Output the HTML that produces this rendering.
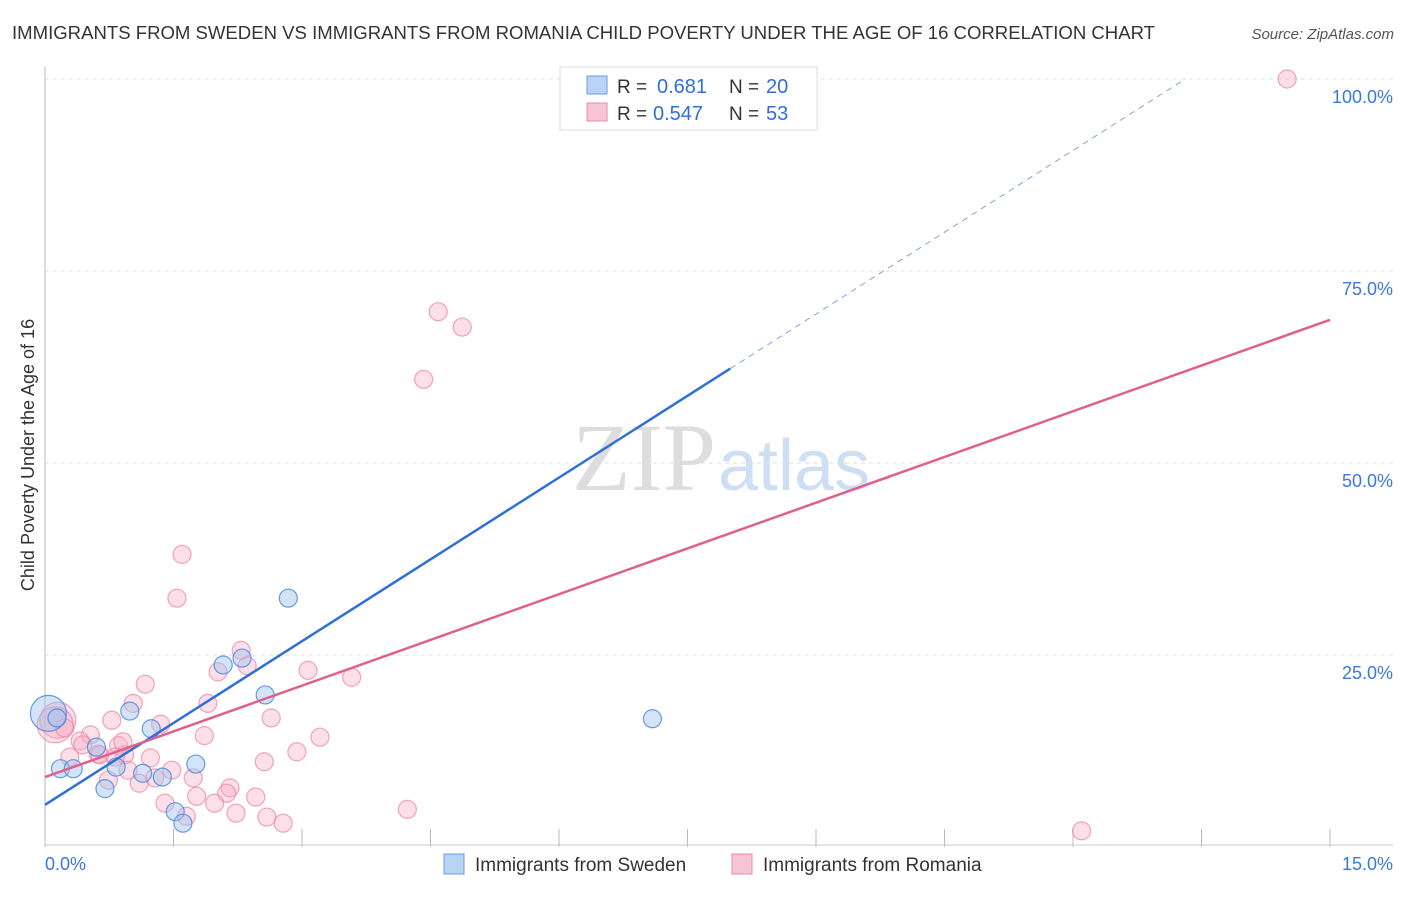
<!DOCTYPE html>
<html><head><meta charset="utf-8"><style>
body{margin:0;background:#fff;font-family:"Liberation Sans",sans-serif}
svg text{font-family:"Liberation Sans",sans-serif}
</style></head><body>
<svg id="c" width="1406" height="892">
<text x="12" y="39" font-size="18" fill="#333" textLength="1143" lengthAdjust="spacingAndGlyphs">IMMIGRANTS FROM SWEDEN VS IMMIGRANTS FROM ROMANIA CHILD POVERTY UNDER THE AGE OF 16 CORRELATION CHART</text>
<text x="1394" y="39" font-size="15" fill="#555" font-style="italic" text-anchor="end">Source: ZipAtlas.com</text>
<text x="34" y="455" font-size="18" fill="#333" text-anchor="middle" transform="rotate(-90 34 455)">Child Poverty Under the Age of 16</text>
<text x="716" y="490" font-size="96" fill="#ddd" text-anchor="end" style="font-family:'Liberation Serif',serif">ZIP</text>
<text x="718" y="490" font-size="72" fill="#cfdff3">atlas</text>
<g id="grid"></g><g id="axes"></g><g id="pts"></g><g id="lines"></g>
<g>
<rect x="560" y="67" width="257" height="63" fill="#fff" stroke="#ddd"/>
<rect x="587" y="76" width="20" height="18" fill="#b8d3f5" stroke="#6a9ee0"/>
<text x="617" y="93" font-size="19" fill="#333">R =</text>
<text x="657" y="93" font-size="20" fill="#2f6fd6">0.681</text>
<text x="729" y="93" font-size="19" fill="#333">N =</text>
<text x="766" y="93" font-size="20" fill="#2f6fd6">20</text>
<rect x="587" y="103" width="20" height="18" fill="#f8c5d5" stroke="#e88aa8"/>
<text x="617" y="120" font-size="19" fill="#333">R =</text>
<text x="653" y="120" font-size="20" fill="#2f6fd6">0.547</text>
<text x="729" y="120" font-size="19" fill="#333">N =</text>
<text x="766" y="120" font-size="20" fill="#2f6fd6">53</text>
</g>
<g>
<rect x="444" y="854" width="20" height="20" fill="#b8d3f5" stroke="#6a9ee0"/>
<text x="475" y="871" font-size="19" fill="#333">Immigrants from Sweden</text>
<rect x="732" y="854" width="20" height="20" fill="#f8c5d5" stroke="#e88aa8"/>
<text x="763" y="871" font-size="19" fill="#333">Immigrants from Romania</text>
</g>
</svg>
<script>
const yTicks=[25,50,75,100];
const yTickLabels=["25.0%","50.0%","75.0%","100.0%"];
const xTicks=[0,1.5,3,4.5,6,7.5,9,10.5,12,13.5,15];
const swedenX=[0.04,0.18,0.33,0.60,0.99,1.24,0.83,1.14,1.37,0.70,1.52,1.61,1.76,2.08,2.30,2.57,2.84,7.09,7.00,0.14];
const swedenY=[17.4,10.2,10.2,13.0,17.7,15.4,10.4,9.6,9.1,7.6,4.6,3.1,10.8,23.7,24.6,19.8,32.4,16.7,100,16.8];
const romaniaX=[14.50,4.59,4.87,4.42,1.60,1.54,2.29,2.36,2.02,3.07,3.58,1.17,1.03,1.90,0.78,1.35,2.64,1.86,3.21,0.53,0.15,0.12,2.94,1.23,0.86,0.93,0.62,0.29,0.41,2.56,1.48,0.97,1.28,1.10,0.74,1.73,2.16,2.12,1.77,1.98,2.46,1.40,2.23,1.65,2.59,2.78,4.23,12.10,0.91,0.64,0.44,0.23,0.82];
const romaniaY=[100,69.7,67.7,60.9,38.1,32.4,25.6,23.6,22.8,23.0,22.1,21.2,18.7,18.7,16.5,16.0,16.8,14.5,14.3,14.6,16.5,15.9,12.4,11.6,13.2,12.0,12.1,11.7,13.8,11.1,10.0,10.0,9.0,8.3,8.7,9.0,7.7,7.0,6.6,5.7,6.5,5.7,4.4,4.0,3.9,3.1,4.9,2.1,13.7,12.0,13.3,15.5,11.7];
const swedenBig=[0];
const romaniaBig=[20,21];
const swedenFit=[5.5,7.1];
const romaniaFit=[9.1,3.97];
const NS='http://www.w3.org/2000/svg';
const X=v=>45+v/15*1285, Y=v=>847-v/100*768;
function mk(t,a,p){const e=document.createElementNS(NS,t);for(const k in a)e.setAttribute(k,a[k]);p.appendChild(e);return e;}
const grid=document.getElementById('grid'),axes=document.getElementById('axes'),pts=document.getElementById('pts'),lines=document.getElementById('lines');
yTicks.forEach((t,i)=>{
 const g=mk('line',{x1:45,x2:1393,y1:Y(t),y2:Y(t),stroke:'#ddd','stroke-dasharray':'4,4'},grid);
 
 
 const l=mk('text',{x:1393,y:Y(t)+24,'font-size':18,fill:'#3b78d8','text-anchor':'end'},axes);
 l.textContent=yTickLabels[i];
 
 
});
const ya=mk('line',{x1:45,x2:45,y1:67,y2:847,stroke:'#bbb'},axes);


const xa=mk('line',{x1:45,x2:1393,y1:845,y2:845,stroke:'#ccc'},axes);


xTicks.forEach(t=>{const e=mk('line',{x1:X(t),x2:X(t),y1:829,y2:847,stroke:'#bbb'},axes);
 
 });
const xl0=mk('text',{x:45,y:870,'font-size':18,fill:'#3b78d8'},axes);xl0.textContent='0.0%';


const xl1=mk('text',{x:1393,y:870,'font-size':18,fill:'#3b78d8','text-anchor':'end'},axes);xl1.textContent='15.0%';


romaniaX.forEach((x,i)=>{const c=mk('circle',{cx:X(x),cy:Y(romaniaY[i]),r:romaniaBig.includes(i)?18:9,fill:'rgba(246,170,195,0.38)',stroke:'rgba(232,130,165,0.7)','stroke-width':1.2},pts);
 
 });
swedenX.forEach((x,i)=>{const c=mk('circle',{cx:X(x),cy:Y(swedenY[i]),r:swedenBig.includes(i)?18:9,fill:'rgba(160,195,240,0.45)',stroke:'rgba(70,130,220,0.8)','stroke-width':1.2},pts);
 
 });
const bx=8.0, bxe=(100-swedenFit[0])/swedenFit[1];
const b1=mk('line',{x1:X(0),y1:Y(swedenFit[0]),x2:X(bx),y2:Y(swedenFit[0]+swedenFit[1]*bx),stroke:'#2f6fd6','stroke-width':2.5},lines);


const b2=mk('line',{x1:X(bx),y1:Y(swedenFit[0]+swedenFit[1]*bx),x2:X(bxe),y2:Y(100),stroke:'#7aa6e6','stroke-width':1,'stroke-dasharray':'6,5'},lines);


const p1=mk('line',{x1:X(0),y1:Y(romaniaFit[0]),x2:X(15),y2:Y(romaniaFit[0]+romaniaFit[1]*15),stroke:'#e0608c','stroke-width':2.5},lines);


</script>
</body></html>
